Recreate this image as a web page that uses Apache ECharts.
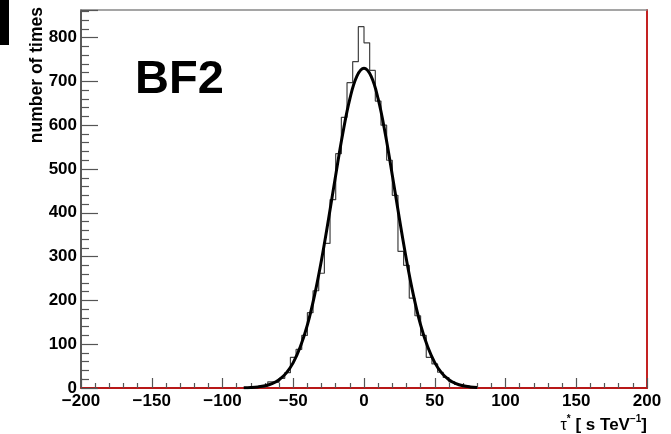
<!DOCTYPE html>
<html><head><meta charset="utf-8">
<script src="https://cdn.jsdelivr.net/npm/echarts@6/dist/echarts.min.js"></script>
<style>html,body{margin:0;padding:0;background:#fff}#c{width:671px;height:434px}</style>
</head><body><div id="c"></div>
<script>
// Histogram bins (width 4) : lower edges and counts
const binWidth = 4;
const binLowEdges = [-80,-76,-72,-68,-64,-60,-56,-52,-48,-44,-40,-36,-32,-28,-24,-20,-16,-12,-8,-4,
                      0,4,8,12,16,20,24,28,32,36,40,44,48,52,56,60,64,68,72,76];
const counts = [1,2,4,14,13,22,35,70,88,120,172,222,262,330,430,535,618,697,745,825,
                788,725,655,600,520,440,312,280,205,165,120,70,55,36,24,14,8,5,3,1];
// Fit curve points
const fitX = [-85,-80,-75,-70,-65,-60,-55,-50,-45,-40,-35,-30,-25,-20,-15,-10,-5,0,
              5,10,15,20,25,30,35,40,45,50,55,60,65,70,75,80];
const fitY = [0.5,1.1,2.4,5,10,19,34,58,94,144,211,293,387,486,581,660,712,730,
              712,660,581,486,387,293,211,144,94,58,34,19,10,5,2.4,1.1];
const xTicks = [-200,-150,-100,-50,0,50,100,150,200];
const yTicks = [0,100,200,300,400,500,600,700,800];

const histPts = [];
histPts.push([binLowEdges[0], 0]);
for (let i = 0; i < counts.length; i++) {
  histPts.push([binLowEdges[i], counts[i]]);
  histPts.push([binLowEdges[i] + binWidth, counts[i]]);
}
histPts.push([binLowEdges[binLowEdges.length-1] + binWidth, 0]);
const fitPts = fitX.map((x, i) => [x, fitY[i]]);

const FF = '"Liberation Sans", Arial, Helvetica, sans-serif';
const chart = echarts.init(document.getElementById('c'), null, {renderer: 'canvas'});
const fmtX = v => (v < 0 ? '\u2212' + Math.abs(v) : String(v));
chart.setOption({
  animation: false,
  backgroundColor: '#fff',
  grid: {left: 81, right: 24, top: 10, bottom: 46, containLabel: false},
  xAxis: [{
    type: 'value', position: 'bottom', min: xTicks[0], max: xTicks[xTicks.length-1], interval: 50,
    axisLine: {show: true, onZero: false, lineStyle: {color: '#b81818', width: 2}},
    axisTick: {show: true, inside: true, length: 10, lineStyle: {color: '#555', width: 1.2}},
    minorTick: {show: true, splitNumber: 5, length: 5, lineStyle: {color: '#555', width: 1.2}},
    splitLine: {show: false},
    axisLabel: {margin: 5, fontFamily: FF, fontWeight: 'bold', fontSize: 17, color: '#000', formatter: fmtX}
  }, {
    type: 'value', position: 'top', min: -200, max: 200,
    axisLine: {show: true, onZero: false, lineStyle: {color: '#888', width: 1.5}},
    axisTick: {show: false}, axisLabel: {show: false}, splitLine: {show: false}
  }],
  yAxis: [{
    type: 'value', position: 'left', min: 0, max: 863, interval: 100,
    axisLine: {show: true, onZero: false, lineStyle: {color: '#222', width: 1.5}},
    axisTick: {show: true, inside: true, length: 17, lineStyle: {color: '#555', width: 1.2}},
    minorTick: {show: true, splitNumber: 5, length: 8, lineStyle: {color: '#555', width: 1.2}},
    splitLine: {show: false},
    axisLabel: {margin: 4, fontFamily: FF, fontWeight: 'bold', fontSize: 17, color: '#000', showMaxLabel: false,
      formatter: v => (yTicks.indexOf(v) >= 0 ? String(v) : '')}
  }, {
    type: 'value', position: 'right', min: 0, max: 863,
    axisLine: {show: true, onZero: false, lineStyle: {color: '#c42222', width: 2}},
    axisTick: {show: false}, axisLabel: {show: false}, splitLine: {show: false}
  }],
  series: [{
    type: 'line', data: histPts, showSymbol: false, symbol: 'none',
    lineStyle: {color: '#404040', width: 1.2}, z: 3
  }, {
    type: 'line', data: fitPts, showSymbol: false, symbol: 'none', smooth: 0.4,
    lineStyle: {color: '#000', width: 3}, z: 4
  }],
  graphic: [
    {type: 'rect', shape: {x: 0, y: 0, width: 9, height: 45}, style: {fill: '#000'}},
    {type: 'text', x: 135, y: 80, style: {text: 'BF2', font: 'bold 47px ' + FF, fill: '#000', verticalAlign: 'middle', align: 'left'}},
    {type: 'text', x: 37, y: 7, rotation: Math.PI / 2,
     style: {text: 'number of times', font: 'bold 17.5px ' + FF, fill: '#000', align: 'right', verticalAlign: 'middle'}},
    {type: 'text', x: 647, y: 424,
     style: {
       text: '{t|\u03c4}{s|*}{b| [ s TeV}{s|\u22121}{b|]}',
       align: 'right', verticalAlign: 'middle',
       rich: {
         t: {fontFamily: FF, fontSize: 16, fill: '#000', lineHeight: 20, verticalAlign: 'bottom'},
         s: {fontFamily: FF, fontSize: 10, fontWeight: 'bold', fill: '#000', lineHeight: 20, verticalAlign: 'top'},
         b: {fontFamily: FF, fontSize: 17, fontWeight: 'bold', fill: '#000', lineHeight: 20, verticalAlign: 'bottom'}
       }
     }}
  ]
});
</script>
</body></html>
